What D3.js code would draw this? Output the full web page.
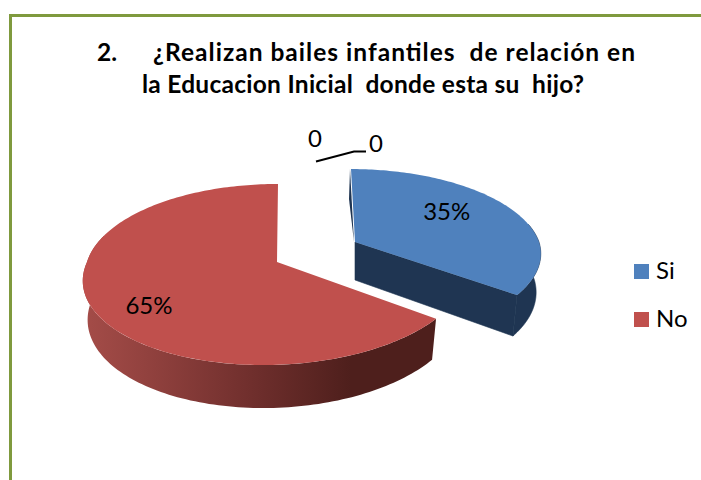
<!DOCTYPE html>
<html><head><meta charset="utf-8">
<script src="https://cdn.jsdelivr.net/npm/d3@7"></script>
<style>html,body{margin:0;padding:0;background:#fff}svg{display:block}text{font-family:Lato,Carlito,sans-serif;fill:#000}</style>
</head><body><svg id="c" width="701" height="480"></svg>
<script>
const categories = ["Si", "No"];
const values = [35, 65];
const percentLabels = ["35%", "65%"];
const zeroLabels = ["0", "0"];
const titleNumber = "2.";
const titleLines = ["¿Realizan bailes infantiles  de relación en", "la Educacion Inicial  donde esta su  hijo?"];
const colors = ["#4f81bd", "#c0504d"];

const svg = d3.select("#c");
const defs = svg.append("defs");
const grad = defs.append("linearGradient").attr("id","redSide").attr("gradientUnits","userSpaceOnUse")
  .attr("x1",85).attr("x2",440).attr("y1",0).attr("y2",0);
[[0,"#a44c48"],[0.2,"#8f403d"],[0.45,"#72302e"],[0.75,"#4e1f1c"],[1,"#4e1f1c"]]
  .forEach(([o,c])=>grad.append("stop").attr("offset",o).attr("stop-color",c));

svg.append("rect").attr("x",10.5).attr("y",15.5).attr("width",720).attr("height",500)
  .attr("fill","#fff").attr("stroke","#7f9a3e").attr("stroke-width",3);

const k = 0.138;
const slices = [
  {cx:355,cy:242,rx:184,ry:83,topShear:4,botShear:0,labelR:0.56,labelDx:4,labelDy:-10},
  {cx:277,cy:262,rx:190,ry:88.8,topShear:-1,botShear:-14,labelR:0.75,labelDx:10,labelDy:12}
];
const pie = d3.pie().sort(null).value(d=>d)(values);

function proj(s,a,r,down){
  const u=r*Math.sin(a), v=-r*Math.cos(a), w=1-k*v;
  let X=s.rx*u/w + (v<0 ? s.topShear*v : s.botShear*v);
  let Y=s.ry*v/w;
  if(down){ X*=0.975; Y+=38+5*v; }
  return [s.cx+X,s.cy+Y];
}
const line = d3.line();
const samples = (a0,a1,n=120)=>d3.range(n+1).map(i=>a0+(a1-a0)*i/n);

// blue slice
(function(){
  const s=slices[0], p=pie[0], dark="#1f3552";
  const vis=samples(p.startAngle+1.35,p.endAngle);
  const wall=[...vis.map(a=>proj(s,a,1,false)),...vis.slice().reverse().map(a=>proj(s,a,1,true))];
  svg.append("path").attr("d",line(wall)+"Z").attr("fill",dark).attr("stroke",dark).attr("stroke-width",0.6);
  const face=[proj(s,0,0,false),proj(s,p.endAngle,1,false),proj(s,p.endAngle,1,true),proj(s,0,0,true)];
  svg.append("path").attr("d",line(face)+"Z").attr("fill",dark).attr("stroke",dark).attr("stroke-width",0.6);
  const t=proj(s,0,1,false);
  const sliver=[t,proj(s,0,0,false),[t[0]-1,t[1]+30]];
  svg.append("path").attr("d",line(sliver)+"Z").attr("fill",dark).attr("transform","translate(-1,0)");
  const top=[proj(s,0,0,false),...samples(p.startAngle,p.endAngle).map(a=>proj(s,a,1,false))];
  svg.append("path").attr("d",line(top)+"Z").attr("fill",colors[0]);
})();

// red slice
(function(){
  const s=slices[1], p=pie[1];
  const vis=samples(p.startAngle,Math.PI*1.6);
  const wall=[...vis.map(a=>proj(s,a,1,false)),...vis.slice().reverse().map(a=>proj(s,a,1,true))];
  svg.append("path").attr("d",line(wall)+"Z").attr("fill","url(#redSide)");
  const top=[proj(s,0,0,false),...samples(p.startAngle,p.endAngle,200).map(a=>proj(s,a,1,false))];
  svg.append("path").attr("d",line(top)+"Z").attr("fill",colors[1]);
})();

// percent labels
pie.forEach((p,i)=>{
  const s=slices[i], pt=proj(s,(p.startAngle+p.endAngle)/2,s.labelR,false);
  svg.append("text").attr("x",pt[0]+s.labelDx).attr("y",pt[1]+s.labelDy).attr("dy","0.35em")
    .attr("text-anchor","middle").style("font-size","24px").text(percentLabels[i]);
});

// zero labels and leader line
svg.append("text").attr("x",315).attr("y",147).attr("text-anchor","middle").style("font-size","24px").text(zeroLabels[0]);
svg.append("text").attr("x",376).attr("y",152).attr("text-anchor","middle").style("font-size","24px").text(zeroLabels[1]);
svg.append("path").attr("d",line([[316,161.5],[354,151.5],[366,151.5]])).attr("fill","none").attr("stroke","#000").attr("stroke-width",2);

// title
const titleStyle=t=>t.style("white-space","pre").style("font-size","24.5px").style("font-weight","700");
svg.append("text").attr("x",97).attr("y",61).call(titleStyle).text(titleNumber);
svg.append("text").attr("x",153).attr("y",61).attr("textLength",482).call(titleStyle).text(titleLines[0]);
svg.append("text").attr("x",142).attr("y",93).attr("textLength",442).call(titleStyle).text(titleLines[1]);

// legend
const ly=d3.scalePoint().domain(categories).range([264,312]);
categories.forEach((c,i)=>{
  svg.append("rect").attr("x",634).attr("y",ly(c)).attr("width",15).attr("height",15).attr("fill",colors[i]);
  svg.append("text").attr("x",656).attr("y",ly(c)+15).style("font-size","24px").text(c);
});
</script></body></html>
